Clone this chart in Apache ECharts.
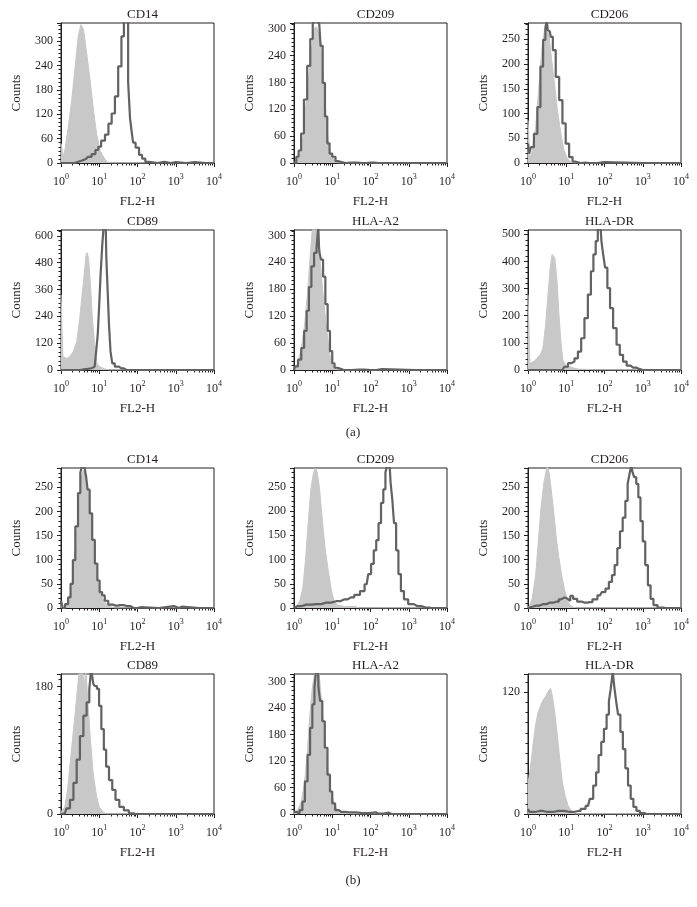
<!DOCTYPE html>
<html><head><meta charset="utf-8">
<script src="https://cdn.jsdelivr.net/npm/echarts@6/dist/echarts.min.js"></script>
<style>html,body{margin:0;padding:0;background:#fff}#c{width:697px;height:907px}</style>
</head><body><div id="c"></div>
<script>
// ---------- data (x = decade exponent of FL2-H, y = counts) ----------
const panelNames = ['CD14','CD209','CD206','CD89','HLA-A2','HLA-DR','CD14','CD209','CD206','CD89','HLA-A2','HLA-DR'];
const sectionLabels = ['(a)','(b)'];
const yMax   = [345,313,283,626,312,516,290,289,290,198,317,138];
const yStep  = [60,60,50,120,60,100,50,50,50,180,60,120];
const yMinor = [6,6,5,6,6,5,5,5,5,18,6,12];
const xTickExp = [0,1,2,3,4];
const xName = 'FL2-H';
const yName = 'Counts';

// isotype control (grey fill) and stained sample (dark outline)
const isoA1 = [[0,48],[0.04,48],[0.07,15],[0.10,31],[0.19,89],[0.28,155],[0.37,238],[0.45,312],[0.52,341],[0.59,329],[0.67,271],[0.76,205],[0.85,130],[0.93,73],[1.02,31],[1.11,15],[1.2,3],[1.3,0],[4,0]];
const stnA1 = [[0,0],[0.35,0],[0.45,3],[0.55,6],[0.65,10],[0.75,15],[0.85,22],[0.95,32],[1.0,40],[1.1,55],[1.2,70],[1.28,97],[1.37,122],[1.45,164],[1.54,238],[1.62,312],[1.67,360],[1.73,360],[1.78,200],[1.83,110],[1.87,75],[1.9,50],[2.0,38],[2.08,20],[2.16,11],[2.25,3],[2.35,0],[2.7,3],[2.75,0],[3.0,2],[3.05,0],[3.5,2],[3.55,0],[4,0]];

const isoA2 = [[0,0],[0.05,0],[0.10,10],[0.16,22],[0.23,55],[0.31,130],[0.40,205],[0.47,265],[0.53,300],[0.58,305],[0.63,295],[0.68,280],[0.73,240],[0.79,165],[0.85,92],[0.91,36],[0.97,15],[1.05,8],[1.12,0],[4,0]];
const stnA2 = [[0,0],[0.03,0],[0.09,14],[0.15,28],[0.22,66],[0.30,142],[0.39,217],[0.46,277],[0.52,311],[0.55,320],[0.65,320],[0.67,311],[0.72,262],[0.78,179],[0.84,104],[0.90,44],[0.96,21],[1.04,14],[1.13,4],[1.2,0],[1.5,1],[1.8,0],[2.0,1],[2.2,0],[4,0]];

const isoA3 = [[0,86],[0.04,86],[0.05,8],[0.07,12],[0.11,25],[0.20,73],[0.29,161],[0.36,228],[0.43,269],[0.48,290],[0.53,276],[0.59,228],[0.68,168],[0.77,107],[0.86,59],[0.94,26],[1.03,9],[1.12,2],[1.2,0],[4,0]];
const stnA3 = [[0,39],[0.02,30],[0.04,19],[0.11,32],[0.20,59],[0.29,113],[0.36,195],[0.43,249],[0.48,272],[0.50,290],[0.52,269],[0.57,266],[0.62,255],[0.68,228],[0.77,174],[0.86,127],[0.94,80],[1.03,39],[1.12,12],[1.21,3],[1.25,0],[1.5,1],[1.6,0],[2.0,2],[2.05,0],[4,0]];

const isoA4 = [[0,337],[0.04,337],[0.05,60],[0.10,55],[0.15,52],[0.23,60],[0.32,82],[0.41,127],[0.49,232],[0.58,382],[0.65,510],[0.68,525],[0.72,502],[0.77,382],[0.82,232],[0.88,112],[0.94,30],[1.01,15],[1.14,5],[1.27,0],[4,0]];
const stnA4 = [[0,0],[0.5,0],[0.6,3],[0.7,5],[0.8,8],[0.88,15],[0.94,67],[0.98,157],[1.01,277],[1.06,427],[1.10,562],[1.13,640],[1.17,640],[1.20,502],[1.24,352],[1.27,202],[1.32,82],[1.36,30],[1.45,15],[1.58,7],[1.71,0],[4,0]];

const isoA5 = [[0,0],[0.04,5],[0.10,15],[0.19,49],[0.28,102],[0.36,178],[0.42,253],[0.47,306],[0.51,320],[0.59,320],[0.63,291],[0.68,246],[0.75,178],[0.84,102],[0.91,49],[0.97,19],[1.05,6],[1.14,0],[4,0]];
const stnA5 = [[0,0],[0.06,8],[0.15,23],[0.23,49],[0.30,87],[0.36,132],[0.42,185],[0.49,231],[0.56,261],[0.62,272],[0.65,320],[0.66,272],[0.68,261],[0.73,246],[0.79,208],[0.85,147],[0.91,87],[0.97,42],[1.03,15],[1.09,5],[1.18,2],[1.3,0],[1.7,1],[2.0,0],[2.3,2],[2.35,0],[4,0]];

const isoA6 = [[0,278],[0.04,278],[0.05,25],[0.06,25],[0.15,31],[0.23,43],[0.32,56],[0.39,80],[0.46,167],[0.53,290],[0.58,377],[0.63,426],[0.67,432],[0.70,414],[0.76,327],[0.81,204],[0.86,105],[0.91,37],[0.98,19],[1.09,12],[1.22,6],[1.35,3],[1.6,2],[1.7,0],[4,0]];
const stnA6 = [[0,0],[0.9,0],[1.00,12],[1.09,25],[1.17,31],[1.26,43],[1.35,68],[1.43,117],[1.52,191],[1.61,278],[1.68,364],[1.74,426],[1.80,475],[1.85,520],[1.90,520],[1.94,475],[1.99,426],[2.04,377],[2.11,302],[2.18,228],[2.27,154],[2.36,93],[2.44,56],[2.53,31],[2.63,16],[2.74,9],[2.91,4],[3.0,0],[4,0]];

const isoB1 = [[0,12],[0.03,12],[0.06,0],[0.15,5],[0.22,18],[0.28,44],[0.34,92],[0.41,160],[0.48,228],[0.53,270],[0.58,285],[0.63,280],[0.67,262],[0.72,235],[0.78,186],[0.85,130],[0.92,82],[0.98,48],[1.04,26],[1.11,18],[1.18,8],[1.3,3],[1.4,0],[4,0]];
const stnB1 = [[0,15],[0.03,15],[0.06,0],[0.15,8],[0.22,22],[0.28,50],[0.34,99],[0.41,169],[0.48,238],[0.53,280],[0.57,295],[0.64,295],[0.67,273],[0.72,245],[0.78,196],[0.85,141],[0.92,92],[0.98,57],[1.04,33],[1.11,26],[1.18,15],[1.29,7],[1.42,5],[1.55,6],[1.72,4],[1.9,0],[2.1,2],[2.15,0],[2.95,4],[3.0,0],[3.17,3],[3.22,0],[4,0]];

const isoB2 = [[0,0],[0.06,3],[0.15,14],[0.23,42],[0.30,98],[0.37,175],[0.44,245],[0.51,280],[0.56,289],[0.61,280],[0.67,245],[0.74,182],[0.82,119],[0.91,70],[0.98,35],[1.05,14],[1.14,6],[1.32,3],[1.62,3],[1.7,0],[4,0]];
const stnB2 = [[0,0],[0.10,4],[0.32,7],[0.58,8],[0.84,11],[1.10,14],[1.32,18],[1.49,22],[1.66,27],[1.79,35],[1.90,49],[1.98,70],[2.05,91],[2.12,119],[2.18,140],[2.24,175],[2.31,217],[2.36,245],[2.42,280],[2.46,295],[2.50,295],[2.55,259],[2.59,224],[2.64,175],[2.70,119],[2.76,70],[2.83,35],[2.92,18],[3.05,8],[3.22,4],[3.44,1],[3.6,0],[4,0]];

const isoB3 = [[0,0],[0.04,5],[0.11,19],[0.20,68],[0.27,138],[0.34,208],[0.41,257],[0.50,295],[0.55,281],[0.60,250],[0.67,201],[0.74,145],[0.81,103],[0.88,68],[0.95,40],[1.02,19],[1.09,6],[1.18,2],[1.3,0],[4,0]];
const stnB3 = [[0,0],[0.05,3],[0.22,5],[0.39,8],[0.57,11],[0.74,13],[0.87,18],[0.96,22],[1.00,19],[1.07,15],[1.14,25],[1.22,19],[1.35,13],[1.48,11],[1.62,12],[1.75,18],[1.88,26],[1.98,33],[2.07,40],[2.16,54],[2.23,68],[2.30,89],[2.37,124],[2.44,159],[2.51,187],[2.58,222],[2.63,257],[2.68,278],[2.72,295],[2.75,281],[2.80,271],[2.86,257],[2.91,229],[2.97,180],[3.03,138],[3.10,89],[3.17,47],[3.24,19],[3.32,6],[3.45,1],[3.6,0],[4,0]];

const isoB4 = [[0,3],[0.02,3],[0.10,10],[0.17,34],[0.23,67],[0.30,105],[0.37,143],[0.43,177],[0.48,205],[0.57,205],[0.60,177],[0.65,205],[0.71,153],[0.77,105],[0.84,58],[0.93,25],[1.00,10],[1.10,3],[1.19,0],[4,0]];
const stnB4 = [[0,0],[0.10,1],[0.19,8],[0.28,20],[0.37,44],[0.45,77],[0.54,110],[0.63,139],[0.71,158],[0.77,177],[0.81,205],[0.83,205],[0.86,184],[0.91,181],[0.97,177],[1.02,153],[1.09,120],[1.15,91],[1.21,67],[1.30,48],[1.38,34],[1.47,20],[1.58,10],[1.71,5],[1.84,1],[1.95,0],[4,0]];

const isoB5 = [[0,0],[0.02,4],[0.10,9],[0.19,28],[0.28,74],[0.35,142],[0.41,218],[0.47,279],[0.52,309],[0.56,325],[0.65,325],[0.69,286],[0.75,226],[0.82,157],[0.89,96],[0.97,51],[1.06,21],[1.14,9],[1.27,4],[1.45,1],[1.55,0],[4,0]];
const stnB5 = [[0,5],[0.02,5],[0.10,1],[0.19,9],[0.25,28],[0.32,74],[0.39,134],[0.45,195],[0.51,248],[0.56,286],[0.59,325],[0.63,325],[0.65,286],[0.71,256],[0.77,210],[0.84,150],[0.91,89],[0.97,51],[1.03,24],[1.12,9],[1.23,5],[1.45,4],[1.79,2],[2.14,4],[2.2,1],[2.48,3],[2.55,0],[4,0]];

const isoB6 = [[0,30],[0.02,30],[0.06,45],[0.13,68],[0.20,88],[0.26,100],[0.32,106],[0.39,112],[0.46,116],[0.53,121],[0.59,124],[0.64,116],[0.70,100],[0.76,80],[0.83,55],[0.90,31],[0.97,18],[1.05,8],[1.14,3],[1.22,0],[4,0]];
const stnB6 = [[0,5],[0.02,5],[0.05,2],[0.3,3],[0.5,2],[0.8,3],[1.1,2],[1.31,3],[1.44,5],[1.57,8],[1.66,15],[1.75,28],[1.81,41],[1.88,58],[1.95,71],[2.02,84],[2.09,98],[2.14,111],[2.19,124],[2.24,140],[2.28,124],[2.33,111],[2.38,98],[2.45,81],[2.51,64],[2.58,45],[2.65,28],[2.72,15],[2.79,7],[2.88,3],[2.97,1],[3.10,0],[4,0]];

const isoSeries = [isoA1,isoA2,isoA3,isoA4,isoA5,isoA6,isoB1,isoB2,isoB3,isoB4,isoB5,isoB6];
const stnSeries = [stnA1,stnA2,stnA3,stnA4,stnA5,stnA6,stnB1,stnB2,stnB3,stnB4,stnB5,stnB6];

// ---------- layout ----------
const FONT = 'Liberation Serif';
const INK = '#231f20';
const colLeft = [61, 294, 528];
const rowTop = [23, 230, 468, 674];
const W = 153, H = 140;

const minorTicks = [];
for (let n = 0; n < 4; n++) for (let k = 2; k <= 9; k++) minorTicks.push(n + Math.log10(k));

const grid = [], xAxis = [], yAxis = [], series = [], title = [];
panelNames.forEach((name, i) => {
  const r = Math.floor(i / 3), c = i % 3;
  const left = colLeft[c], top = rowTop[r];
  grid.push({left, top, width: W, height: H, show: true, borderColor: INK, borderWidth: 1, backgroundColor: 'transparent'});
  title.push({text: name, left: left + W / 2, top: top - 20, textAlign: 'center',
    textStyle: {fontFamily: FONT, fontSize: 13, fontWeight: 'normal', color: INK}});
  xAxis.push({
    type: 'value', gridIndex: i, min: 0, max: 4, interval: 1, position: 'bottom',
    name: xName, nameLocation: 'middle', nameGap: 32,
    nameTextStyle: {fontFamily: FONT, fontSize: 13, color: INK},
    axisLine: {show: true, onZero: false, lineStyle: {color: INK, width: 1}},
    axisTick: {show: true, length: 4, lineStyle: {color: INK}},
    splitLine: {show: false},
    axisLabel: {
      margin: 10,
      formatter: v => '{b|10}{s|' + xTickExp[Math.round(v)] + '}',
      rich: {
        b: {fontFamily: FONT, fontSize: 12, color: INK, lineHeight: 18},
        s: {fontFamily: FONT, fontSize: 8, color: INK, lineHeight: 9, verticalAlign: 'top'}
      }
    }
  });
  xAxis.push({
    type: 'value', gridIndex: i, min: 0, max: 4, position: 'bottom',
    axisLine: {show: false}, axisLabel: {show: false}, splitLine: {show: false},
    axisTick: {show: true, length: 2.5, customValues: minorTicks, lineStyle: {color: INK}}
  });
  yAxis.push({
    type: 'value', gridIndex: i, min: 0, max: yMax[i], interval: yStep[i],
    name: yName, nameLocation: 'middle', nameGap: 38,
    nameTextStyle: {fontFamily: FONT, fontSize: 13, color: INK},
    axisLine: {show: true, lineStyle: {color: INK, width: 1}},
    axisTick: {show: true, length: 4, lineStyle: {color: INK}},
    minorTick: {show: true, splitNumber: yMinor[i], length: 2.5, lineStyle: {color: INK}},
    splitLine: {show: false}, minorSplitLine: {show: false},
    axisLabel: {margin: 8, showMaxLabel: false, fontFamily: FONT, fontSize: 12, color: INK}
  });
  series.push({
    type: 'line', xAxisIndex: 2 * i, yAxisIndex: i, data: isoSeries[i],
    symbol: 'none', showSymbol: false, silent: true,
    lineStyle: {width: 1, color: '#c8c8c8'}, areaStyle: {color: '#c8c8c8', opacity: 1}
  });
  series.push({
    type: 'line', xAxisIndex: 2 * i, yAxisIndex: i, data: stnSeries[i], step: 'middle',
    symbol: 'none', showSymbol: false, silent: true,
    lineStyle: {width: 2.2, color: '#626262'}
  });
});
title.push({text: sectionLabels[0], left: 348, top: 421, textAlign: 'center', textStyle: {fontFamily: FONT, fontSize: 13, fontWeight: 'normal', color: INK}});
title.push({text: sectionLabels[1], left: 348, top: 869, textAlign: 'center', textStyle: {fontFamily: FONT, fontSize: 13, fontWeight: 'normal', color: INK}});

const chart = echarts.init(document.getElementById('c'));
chart.setOption({animation: false, backgroundColor: '#fff', title, grid, xAxis, yAxis, series});
</script></body></html>
